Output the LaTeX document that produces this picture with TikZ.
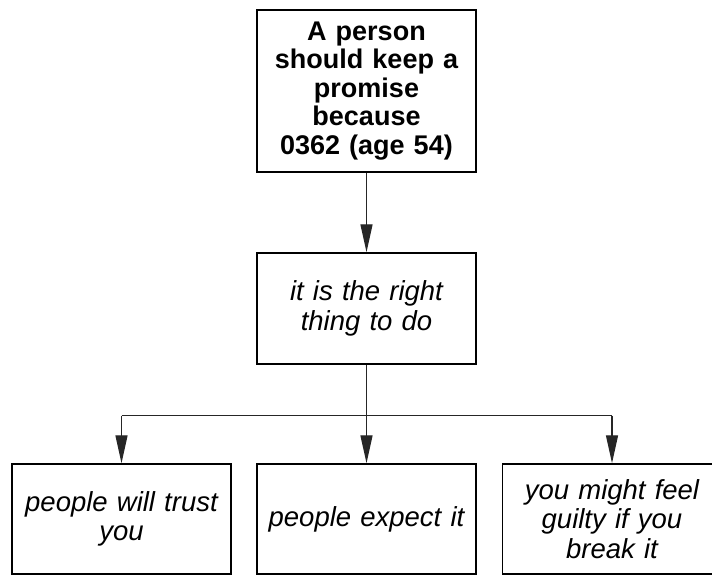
\documentclass[tikz,border=0pt]{standalone}
\usepackage{fontspec}
\setmainfont{Liberation Sans}
\usetikzlibrary{arrows.meta}
\tikzset{
  box/.style={draw=black, line width=1.5pt, rectangle, minimum width=219pt, inner sep=0pt, align=center, text width=214pt},
  conn/.style={draw=black!85, line width=1.4pt},
  arr/.style={conn, -{Triangle[length=28pt,width=12pt]}},
  itxt/.style={font=\fontsize{27.5}{29.5}\selectfont\itshape},
  btxt/.style={font=\fontsize{27}{28.5}\selectfont\bfseries}
}
\begin{document}
\begin{tikzpicture}[x=1pt,y=1pt]
\useasboundingbox (0,0) rectangle (712,-575);
\node[box, btxt, minimum height=162pt] (top) at (366.5,-91) {A person\\should keep a\\promise\\because\\0362 (age 54)};
\node[box, itxt, minimum height=111pt] (mid) at (366.5,-308.5) {it is the right\\thing to do};
\node[box, itxt, minimum height=110pt] (b1) at (121.5,-519) {people will trust\\you};
\node[box, itxt, minimum height=110pt] (b2) at (366.5,-519) {people expect it};
\node[box, itxt, minimum height=110pt] (b3) at (612,-519) {you might feel\\guilty if you\\break it};
\coordinate (j) at (366.5,-415.7);
\coordinate (jl) at (121.5,-415.7);
\coordinate (jr) at (612,-415.7);
\draw[arr] (top.south) -- (mid.north);
\draw[conn] (mid.south) -- (j);
\draw[conn] (jl) -- (jr);
\draw[arr] (jl) -- (b1.north);
\draw[arr] (j) -- (b2.north);
\draw[arr] (jr) -- (b3.north);
\end{tikzpicture}
\end{document}
